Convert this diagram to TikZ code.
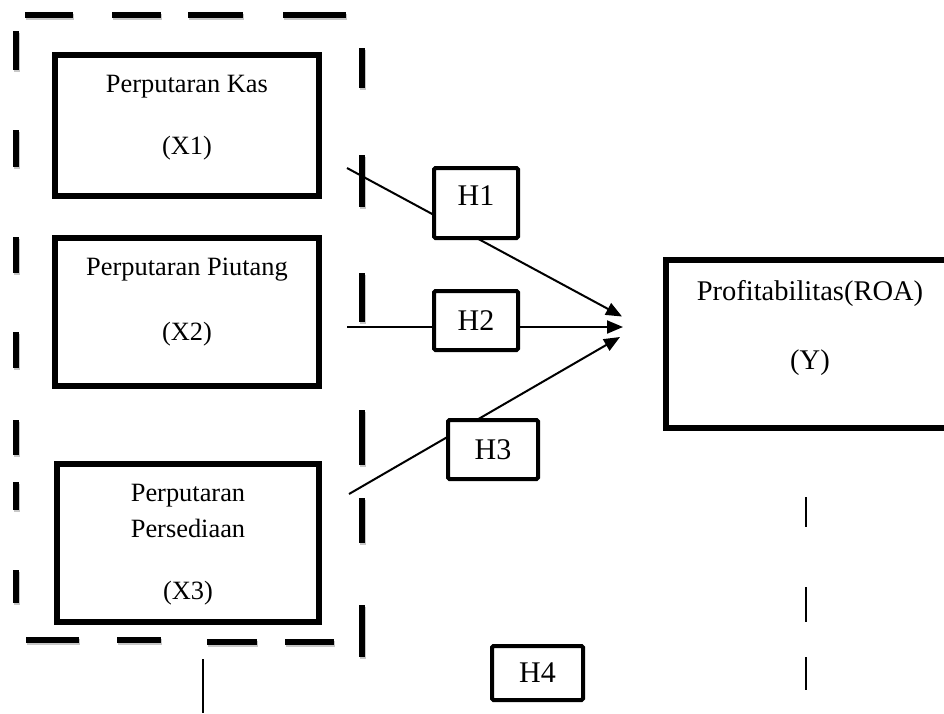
\documentclass[tikz,border=0pt]{standalone}
\usepackage{fontspec}
\setmainfont{Liberation Serif}
\usetikzlibrary{arrows.meta}
\newcommand{\boxtext}[3]{\parbox[c][#2][t]{#1}{\centering #3}}

\begin{document}
\begin{tikzpicture}[
    x=1pt, y=-1pt,
    var/.style={
        draw, line width=6pt, fill=white, inner sep=0pt,
        font=\fontsize{26.4}{30}\selectfont
    },
    hyp/.style={
        draw, line width=4pt, fill=white, inner sep=0pt,
        rounded corners=1.5pt, minimum height=59pt,
        font=\fontsize{30}{34}\selectfont
    },
    link/.style={-{Triangle[length=16pt, width=13pt]}, line width=2pt},
    framedash/.style={line width=5.5pt},
    frameshadow/.style={line width=5.5pt, black!22},
    guide/.style={line width=2pt}
]
\useasboundingbox (0,0) rectangle (944,713);
\clip (0,0) rectangle (944,713);

% dashed frame round the independent variables
\foreach \a/\b in {25/73, 112/161, 188/243, 283/346} {
  \draw[frameshadow] (\a+0.8,16.8) -- (\b+0.8,16.8);
  \draw[framedash] (\a,15) -- (\b,15);
}
\foreach \a/\b/\c in {26/79/640, 117/161/640, 207/257/642, 285/334/642} {
  \draw[frameshadow] (\a+0.8,\c+1.8) -- (\b+0.8,\c+1.8);
  \draw[framedash] (\a,\c) -- (\b,\c);
}
\foreach \a/\b in {31/70, 130/167, 237/273, 332/368, 420/455, 482/510, 570/603} {
  \draw[frameshadow] (16.8,\a+1.8) -- (16.8,\b+1.8);
  \draw[framedash] (16,\a) -- (16,\b);
}
\foreach \a/\b in {48/88, 155/207, 273/322, 410/465, 498/543, 605/657} {
  \draw[frameshadow] (362.8,\a+1.8) -- (362.8,\b+1.8);
  \draw[framedash] (362,\a) -- (362,\b);
}

% variables
\node[var] (X1) at (187,125.5) {\boxtext{264pt}{141pt}{%
  \rule{0pt}{37pt}Perputaran Kas\\[32pt](X1)}};
\node[var] (X2) at (187,312) {\boxtext{264pt}{148pt}{%
  \rule{0pt}{37pt}Perputaran Piutang\\[35pt](X2)}};
\node[var] (X3) at (188,543) {\boxtext{262pt}{158pt}{%
  \rule{0pt}{37pt}Perputaran\\[6pt]Persediaan\\[32pt](X3)}};
\node[var] (Y) at (810,344) {\boxtext{288pt}{168pt}{%
  \fontsize{28.5}{30}\selectfont
  \rule{0pt}{40pt}Profitabilitas(ROA)\\[39pt](Y)}};

% partial effects
\coordinate (x1out) at (347,168);
\coordinate (x2out) at (347,327);
\coordinate (x3out) at (349,494);
\coordinate (yin1) at (622,316.5);
\coordinate (yin2) at (623,327);
\coordinate (yin3) at (620,337);
\draw[link] (x1out) -- (yin1);
\draw[link] (x2out) -- (yin2);
\draw[link] (x3out) -- (yin3);

\node[hyp, minimum width=84pt, minimum height=70pt, text depth=15pt] (H1) at (476,203) {H1};
\node[hyp, minimum width=84pt] (H2) at (476,320.5) {H2};
\node[hyp, minimum width=90pt] (H3) at (493,449.5) {H3};
\node[hyp, minimum width=91pt, minimum height=54pt] (H4) at (537.5,673) {H4};

% simultaneous effect
\foreach \a/\b in {497/527, 587/622, 657/690}
  \draw[guide] (806,\a) -- (806,\b);
\draw[guide, line width=1.6pt] (203,659) -- (203,713);
\end{tikzpicture}
\end{document}
